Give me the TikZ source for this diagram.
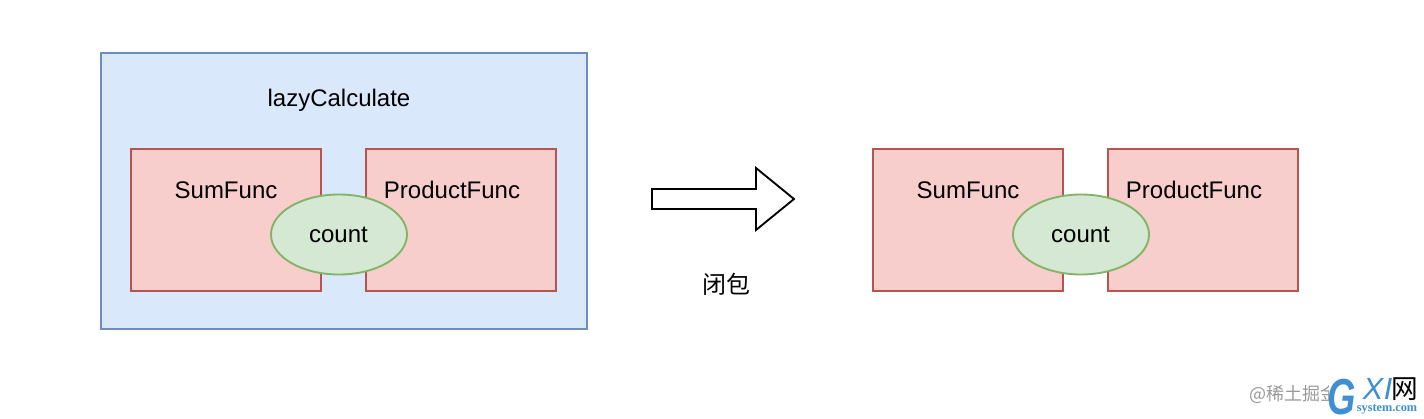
\documentclass[tikz,border=0pt]{standalone}
\usepackage{fontspec}
\setmainfont{Liberation Sans}
\newfontfamily\cjkfont{Noto Sans CJK SC}
\newfontfamily\serifmark{Liberation Serif}
\definecolor{bluefill}{HTML}{DAE8FC}
\definecolor{blueline}{HTML}{6C8EBF}
\definecolor{redfill}{HTML}{F8CECC}
\definecolor{redline}{HTML}{B85450}
\definecolor{greenfill}{HTML}{D5E8D4}
\definecolor{greenline}{HTML}{82B366}
\definecolor{markblue}{HTML}{3F8FD2}
\tikzset{
    bluebox/.style={fill=bluefill, draw=blueline, line width=1.4pt},
    redbox/.style={fill=redfill, draw=redline, line width=1.4pt},
    greenbox/.style={fill=greenfill, draw=greenline, line width=1.4pt},
    label/.style={font=\fontsize{18}{20}\selectfont, inner sep=0pt}
}
\begin{document}
\begin{tikzpicture}[x=0.75pt, y=-0.75pt]
        \useasboundingbox (0,0) rectangle (1424,418);

        % left group
        \filldraw[bluebox] (101,53) rectangle (587,329);
        \filldraw[redbox] (131,149) rectangle (321,291);
        \filldraw[redbox] (366,149) rectangle (556,291);
        \filldraw[greenbox] (339,234.5) ellipse [x radius=68, y radius=40];
        \node[label] (outername) at (339,100) {lazyCalculate};
        \node[label] (sumleft) at (226,190) {SumFunc};
        \node[label] (productleft) at (452,190) {ProductFunc};
        \node[label] (countleft) at (338.5,234.5) {count};

        % arrow
        \draw[black, line width=1.4pt, miter limit=10] (652,189) -- (756,189) -- (756,168) -- (794,199) -- (756,230) -- (756,209) -- (652,209) -- cycle;
        \node[label, font=\fontsize{18}{20}\cjkfont] (closure) at (726,284) {闭包};

        % right group
        \filldraw[redbox] (873,149) rectangle (1063,291);
        \filldraw[redbox] (1108,149) rectangle (1298,291);
        \filldraw[greenbox] (1081,234.5) ellipse [x radius=68, y radius=40];
        \node[label] (sumright) at (968,190) {SumFunc};
        \node[label] (productright) at (1194,190) {ProductFunc};
        \node[label] (countright) at (1080.5,234.5) {count};

        % watermarks
        \node[inner sep=0pt, anchor=west, text=black!40, font=\fontsize{13.5}{15}\cjkfont] (juejin) at (1249,394) {@稀土掘金};
        \fill[white] (1329,378) rectangle (1424,418);
        \node[inner sep=0pt, text=markblue, xscale=0.72, font=\fontsize{38}{40}\selectfont\bfseries\itshape] (markg) at (1342,397.5) {G};
        \node[inner sep=0pt, text=markblue, font=\fontsize{23}{25}\selectfont\itshape] (markx) at (1373,389) {X};
        \node[inner sep=0pt, text=markblue, font=\fontsize{23}{25}\selectfont\itshape] (marki) at (1388,389) {I};
        \node[inner sep=0pt, text=black, font=\fontsize{20}{22}\cjkfont] (markwang) at (1405,389) {网};
        \node[inner sep=0pt, text=markblue, font=\fontsize{9.2}{10}\serifmark\bfseries] (marksite) at (1387,409) {system.com};
    \end{tikzpicture}
\end{document}
